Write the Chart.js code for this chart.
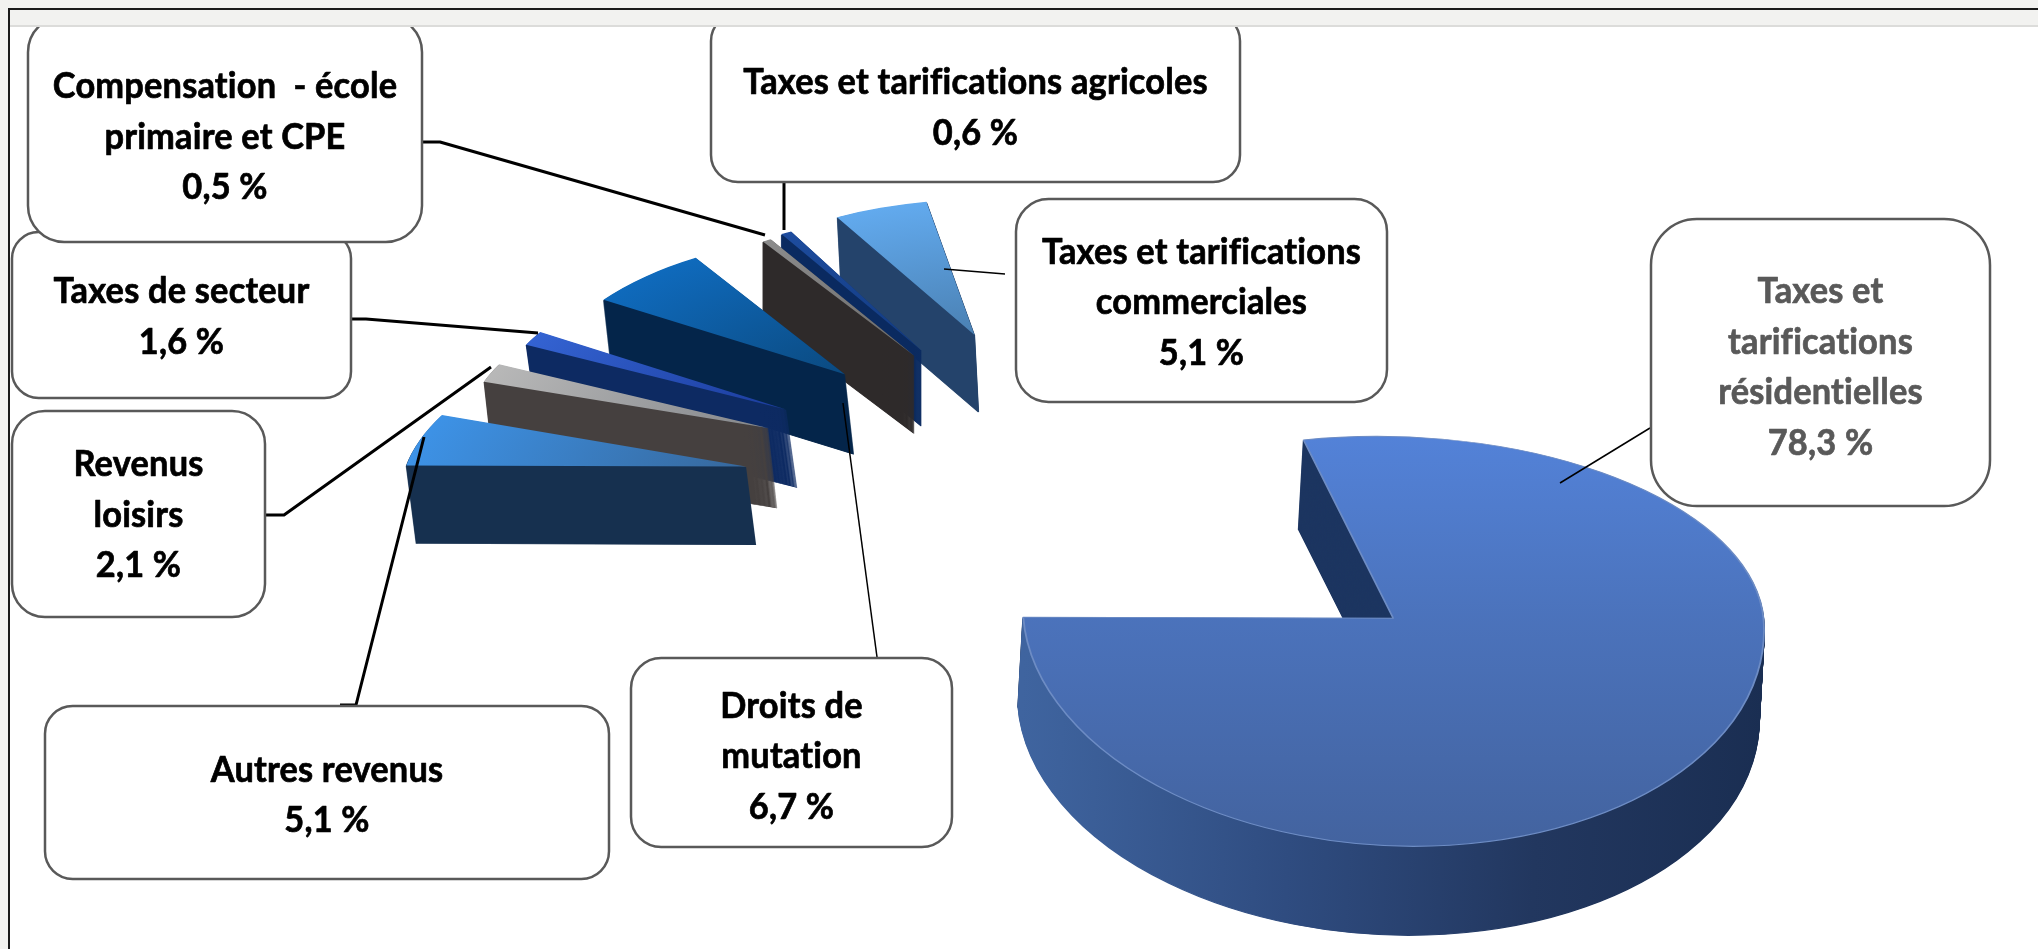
<!DOCTYPE html>
<html lang="fr">
<head>
<meta charset="utf-8">
<title>Revenus</title>
<script src="https://cdn.jsdelivr.net/npm/chart.js@4"></script>
<style>
  html, body { margin: 0; padding: 0; background: #fff; }
  canvas { display: block; }
</style>
</head>
<body>
<canvas id="pieChart" width="2038" height="949"></canvas>
<script>
const categories = [
    'Taxes et tarifications résidentielles',
    'Autres revenus',
    'Revenus loisirs',
    'Taxes de secteur',
    'Droits de mutation',
    'Compensation  - école primaire et CPE',
    'Taxes et tarifications agricoles',
    'Taxes et tarifications commerciales'
];
const values = [78.3, 5.1, 2.1, 1.6, 6.7, 0.5, 0.6, 5.1];
const labelLines = [
    ['Taxes et', 'tarifications', 'résidentielles'],
    ['Autres revenus'],
    ['Revenus', 'loisirs'],
    ['Taxes de secteur'],
    ['Droits de', 'mutation'],
    ['Compensation  - école', 'primaire et CPE'],
    ['Taxes et tarifications agricoles'],
    ['Taxes et tarifications', 'commerciales']
];

// slice look
const faceLight = ['#5382d8', '#3d92e6', '#b8b8b8', '#3463d2', '#0f6abc', '#8c8c8c', '#1d4c9e', '#62aaee'];
const faceDark = ['#43639f', '#37689c', '#85888c', '#1b3c9c', '#0b4a80', '#6a6a6a', '#123a80', '#4a80b2'];
const wallColors = [
    ['#3f649f', '#2f4c80', '#22375f', '#1a2e52'],
    ['#16304f'], ['#45403f'], ['#0d2a62'], ['#04254a'], ['#2e2a2a'], ['#0a2a60'], ['#24436b']
];
const cutWall = '#1d3661';

// 3D projection of the pie, one entry per slice
const tilt = 0.5;
const explode = [385, 355, 355, 355, 350, 335, 340, 344];
const radiusX = [370, 340, 300, 290, 297, 292, 290, 295];
const farY = [182, 160, 144, 146, 140, 137, 137, 136];
const nearY = [228, 160, 144, 146, 140, 137, 137, 136];
const shear = [0.09, -0.35, 0, 0, -0.14, -0.1, -0.12, -0.08];
const wallDepth = [89, 78, 80, 78, 80, 78, 76, 77];
const wallShift = [-5, 10, 9, 11, 9, 0, 0, 4];

// callouts
const boxes = [
    { x: 1651, y: 219, w: 339, h: 287, dy: 5 },
    { x: 45, y: 706, w: 564, h: 173, dy: 3 },
    { x: 12, y: 411, w: 253, h: 206, dy: 1 },
    { x: 12, y: 232, w: 339, h: 166, dy: 2 },
    { x: 631, y: 658, w: 321, h: 189, dy: 4 },
    { x: 28, y: 16, w: 394, h: 226, dy: 8 },
    { x: 711, y: 14, w: 529, h: 168, dy: 10 },
    { x: 1016, y: 199, w: 371, h: 203, dy: 2 }
];
const leaders = [
    { width: 1.5, points: [[1560, 483], [1650, 428]] },
    { width: 3, points: [[340, 705], [356, 705], [424, 437]] },
    { width: 3, points: [[265, 515], [284, 515], [491, 367]] },
    { width: 3, points: [[351, 319], [366, 319], [538, 333]] },
    { width: 1.5, points: [[843, 403], [877, 657]] },
    { width: 3, points: [[422, 142], [440, 142], [765, 235]] },
    { width: 3, points: [[784, 182], [784, 230]] },
    { width: 1.5, points: [[944, 269], [1005, 274]] }
];
const labelFont = 'bold 36px Lato';
const textSquish = 0.955;
const lineGap = 50.5;

function paintSlice(ctx, arc, i, dx, dy, fill, farFill, rim) {
    const half = (arc.startAngle + arc.endAngle) / 2;
    const r = arc.outerRadius;
    const tipX = arc.x + Math.cos(half) * explode[i] + dx;
    const tipY = arc.y + Math.sin(half) * explode[i] * tilt + dy;
    const split = farY[i] !== nearY[i];
    const parts = split
        ? [{ sy: farY[i], top: -1000, bottom: tipY + 0.5, fill: farFill }, { sy: nearY[i], top: tipY - 0.5, bottom: 2000, fill }]
        : [{ sy: farY[i], top: -1000, bottom: 2000, fill: farFill }];
    const saved = arc.options;
    parts.forEach(part => {
        ctx.save();
        ctx.beginPath();
        ctx.rect(0, part.top, 2038, part.bottom - part.top);
        ctx.clip();
        ctx.translate(tipX, tipY);
        ctx.transform(radiusX[i] / r, 0, shear[i] * part.sy / r, part.sy / r, 0, 0);
        ctx.translate(-arc.x, -arc.y);
        arc.options = {
            ...saved,
            backgroundColor: part.fill,
            borderWidth: rim ? 1.5 : 0,
            borderColor: rim === true ? part.fill : (rim || 'transparent')
        };
        arc.draw(ctx);
        ctx.restore();
    });
    arc.options = saved;
}

const pie3d = {
    id: 'pie3d',
    beforeDatasetDraw(chart) {
        const ctx = chart.ctx;
        const arcs = chart.getDatasetMeta(0).data;
        // far slices first so the nearer ones cover them
        for (let i = arcs.length - 1; i >= 0; i--) {
            const arc = arcs[i];
            const r = arc.outerRadius;
            const wall = ctx.createLinearGradient(arc.x - r, 0, arc.x + r, 0);
            wallColors[i].forEach((c, n, all) => wall.addColorStop(all.length > 1 ? n / (all.length - 1) : 0, c));
            for (let d = wallDepth[i]; d > 0; d--) {
                const k = d / wallDepth[i];
                paintSlice(ctx, arc, i, wallShift[i] * k, d, wall, i === 0 ? cutWall : wall, true);
            }
            const face = i === 0
                ? ctx.createLinearGradient(0, arc.y - r, 0, arc.y + r)
                : ctx.createRadialGradient(arc.x, arc.y, r, arc.x, arc.y, 0);
            face.addColorStop(0, faceLight[i]);
            face.addColorStop(1, faceDark[i]);
            paintSlice(ctx, arc, i, 0, 0, face, face, i === 0 ? '#6d8cc4' : null);
        }
        return false;
    },
    afterDatasetsDraw(chart) {
        const ctx = chart.ctx;
        ctx.save();
        ctx.strokeStyle = '#000';
        ctx.lineJoin = 'round';
        leaders.forEach(l => {
            ctx.lineWidth = l.width;
            ctx.beginPath();
            l.points.forEach((p, n) => (n ? ctx.lineTo(p[0], p[1]) : ctx.moveTo(p[0], p[1])));
            ctx.stroke();
        });
        categories.forEach((name, i) => {
            const b = boxes[i];
            ctx.fillStyle = '#fff';
            ctx.strokeStyle = '#595959';
            ctx.lineWidth = 2.5;
            ctx.beginPath();
            ctx.roundRect(b.x, b.y, b.w, b.h, Math.min(b.w, b.h) * 0.16);
            ctx.fill();
            ctx.stroke();
            const lines = [...labelLines[i], values[i].toFixed(1).replace('.', ',') + ' %'];
            const startY = b.y + b.h / 2 + b.dy - (lines.length - 1) * lineGap / 2;
            const ink = i === 0 ? '#595959' : '#000';
            ctx.fillStyle = ink;
            ctx.strokeStyle = ink;
            ctx.lineWidth = 0.7;
            ctx.font = labelFont;
            ctx.letterSpacing = '0.2px';
            ctx.textAlign = 'center';
            ctx.textBaseline = 'middle';
            lines.forEach((line, n) => {
                ctx.save();
                ctx.translate(b.x + b.w / 2, startY + n * lineGap);
                ctx.scale(textSquish, 1);
                ctx.fillText(line, 0, 0);
                ctx.strokeText(line, 0, 0);
                ctx.restore();
            });
        });
        // window frame
        ctx.fillStyle = '#f2f2f0';
        ctx.fillRect(0, 0, 2038, 26);
        ctx.fillRect(0, 0, 9, 949);
        ctx.fillStyle = '#dcdcda';
        ctx.fillRect(10, 25, 2028, 2);
        ctx.fillStyle = '#1a1a1a';
        ctx.fillRect(8, 8, 2030, 2);
        ctx.fillRect(8, 8, 2, 941);
        ctx.restore();
    }
};

new Chart(document.getElementById('pieChart').getContext('2d'), {
    type: 'pie',
    data: {
        labels: categories,
        datasets: [{
            data: values,
            backgroundColor: faceLight,
            borderWidth: 0
        }]
    },
    options: {
        responsive: false,
        animation: false,
        rotation: -11.5,
        radius: 300,
        layout: { padding: { left: 154, top: 43 } },
        plugins: { legend: { display: false }, tooltip: { enabled: false } }
    },
    plugins: [pie3d]
});
</script>
</body>
</html>
